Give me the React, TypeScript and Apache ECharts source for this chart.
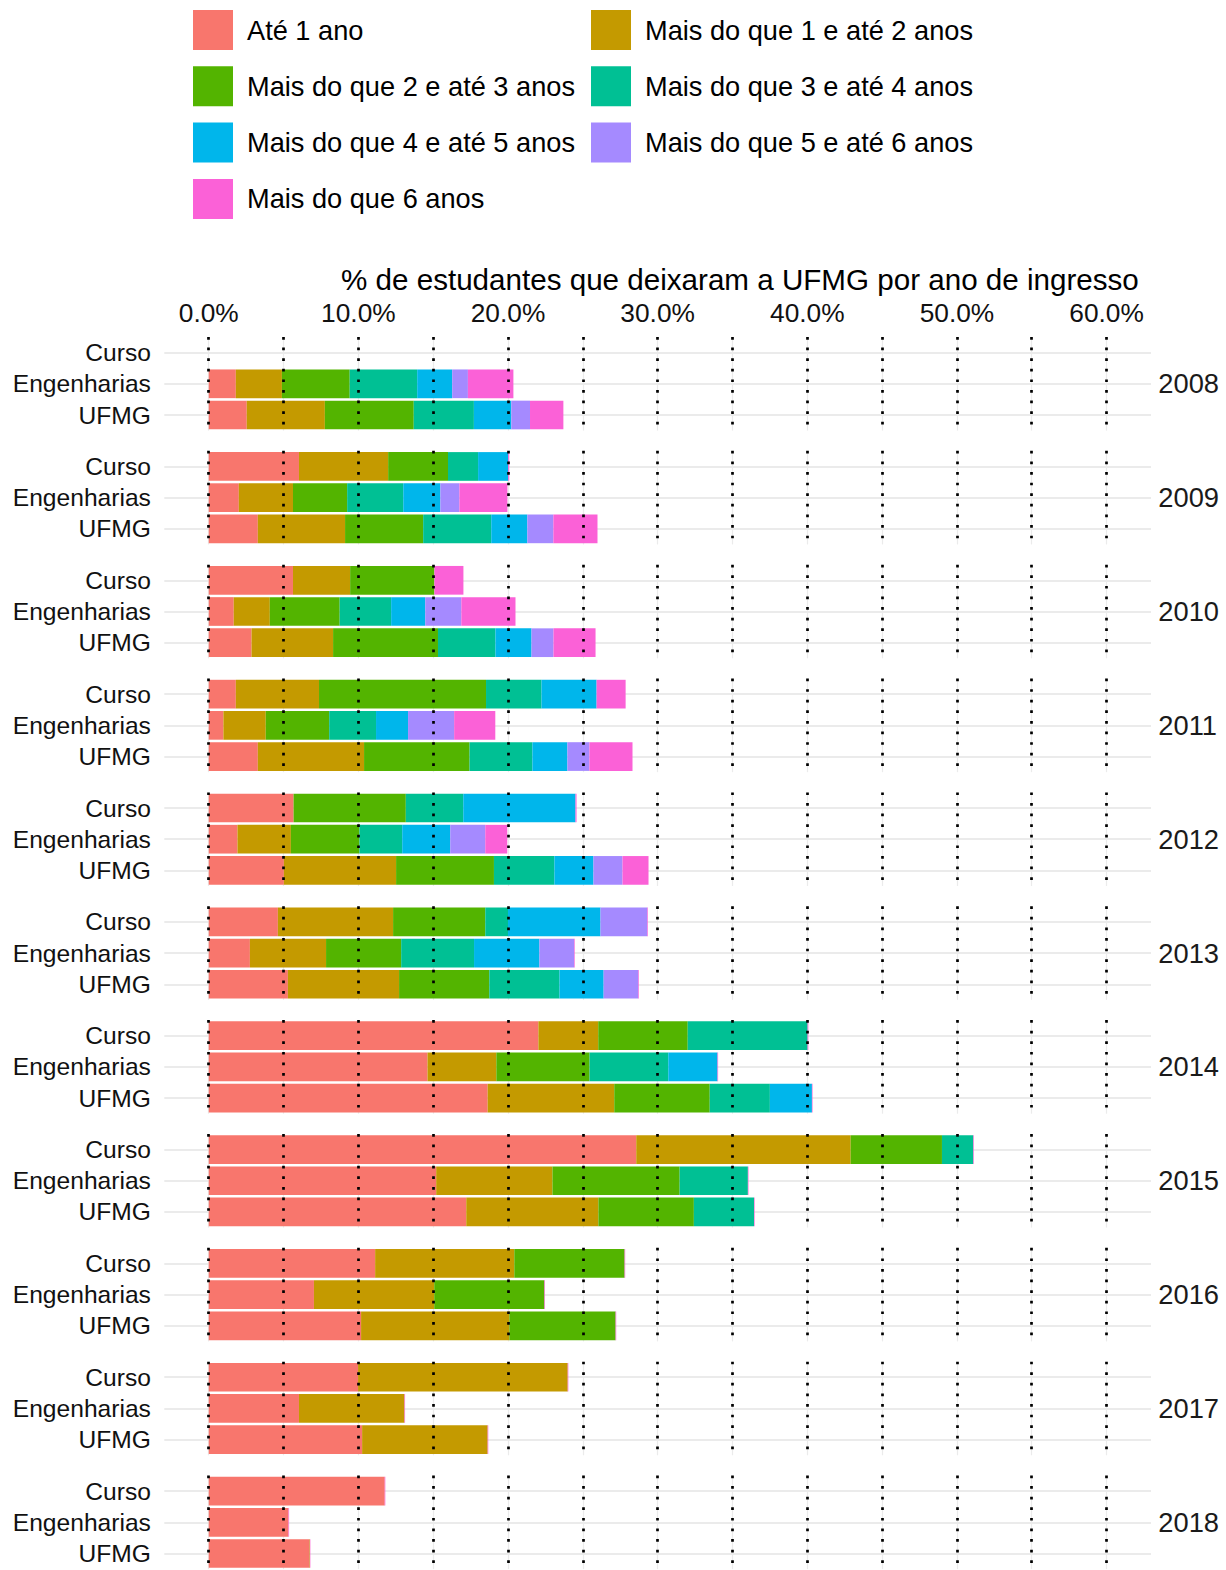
import React, { useEffect, useRef } from "react";
import * as echarts from "echarts";

const years = ["2008", "2009", "2010", "2011", "2012", "2013", "2014", "2015", "2016", "2017", "2018"];
const groups = ["Curso", "Engenharias", "UFMG"];
const categories = [
  "Até 1 ano",
  "Mais do que 1 e até 2 anos",
  "Mais do que 2 e até 3 anos",
  "Mais do que 3 e até 4 anos",
  "Mais do que 4 e até 5 anos",
  "Mais do que 5 e até 6 anos",
  "Mais do que 6 anos",
];
const colors = ["#F8766D", "#C49A00", "#53B400", "#00C094", "#00B6EB", "#A58AFF", "#FB61D7"];

// values in % per year: [Curso, Engenharias, UFMG]
const ate1Ano = [
  [0, 1.81, 2.54], [6.03, 2.01, 3.28], [5.63, 1.67, 2.86], [1.81, 0.98, 3.28],
  [5.67, 1.92, 5.02], [4.62, 2.75, 5.29], [22.03, 14.62, 18.64], [28.57, 15.2, 17.21],
  [11.12, 7.03, 10.18], [9.98, 6.03, 10.25], [11.76, 5.33, 6.7],
];
const de1a2 = [
  [0, 3.08, 5.22], [5.96, 3.62, 5.83], [3.82, 2.41, 5.45], [5.56, 2.83, 7.1],
  [0, 3.57, 7.5], [7.7, 5.09, 7.43], [4.0, 4.6, 8.46], [14.33, 7.77, 8.83],
  [9.3, 8.04, 9.91], [14.01, 7.05, 8.39], [0, 0, 0.05],
];
const de2a3 = [
  [0, 4.53, 5.94], [4.0, 3.62, 5.22], [5.63, 4.67, 7.01], [11.16, 4.24, 7.05],
  [7.5, 4.58, 6.54], [6.16, 5.02, 6.03], [5.98, 6.23, 6.38], [6.1, 8.5, 6.38],
  [7.37, 7.36, 7.1], [0, 0, 0], [0, 0, 0],
];
const de3a4 = [
  [0, 4.51, 4.02], [2.01, 3.75, 4.55], [0, 3.44, 3.84], [3.71, 3.13, 4.2],
  [3.84, 2.86, 4.04], [1.52, 4.87, 4.69], [8.01, 5.26, 4.02], [2.09, 4.56, 4.02],
  [0, 0, 0], [0, 0, 0], [0, 0, 0],
];
const de4a5 = [
  [0, 2.34, 2.5], [2.01, 2.48, 2.41], [0, 2.28, 2.41], [3.68, 2.14, 2.34],
  [7.5, 3.21, 2.61], [6.18, 4.37, 2.95], [0, 3.29, 2.81], [0, 0, 0],
  [0, 0, 0], [0, 0, 0], [0, 0, 0],
];
const de5a6 = [
  [0, 1.05, 1.25], [0, 1.27, 1.74], [0, 2.41, 1.47], [0, 3.08, 1.47],
  [0, 2.34, 1.94], [3.13, 2.32, 2.32], [0, 0, 0], [0, 0, 0],
  [0, 0, 0], [0, 0, 0], [0, 0, 0],
];
const mais6 = [
  [0, 3.04, 2.23], [0.07, 3.21, 2.95], [1.94, 3.62, 2.81], [1.94, 2.75, 2.88],
  [0.07, 1.47, 1.74], [0.04, 0.04, 0.04], [0.05, 0.04, 0.04], [0.04, 0.04, 0.04],
  [0.04, 0.04, 0.04], [0.04, 0.04, 0.04], [0.04, 0.04, 0.04],
];
const seriesValues = [ate1Ano, de1a2, de2a3, de3a4, de4a5, de5a6, mais6];
const xTickValues = [0, 5, 10, 15, 20, 25, 30, 35, 40, 45, 50, 55, 60];
const xLabelValues = [0, 10, 20, 30, 40, 50, 60];
const titleText = "% de estudantes que deixaram a UFMG por ano de ingresso";

const FONT = "'Liberation Sans', Arial, Helvetica, sans-serif";

export default function App() {
  const ref = useRef<HTMLDivElement>(null);
  useEffect(() => {
    const chart = echarts.init(ref.current!, null, { renderer: "svg" });
    const TOP0 = 337.0;
    const STEP = 113.85;
    const PH = 93.6;
    const LEFT = 164.3;
    const W = 986.7;

    const grid = years.map((_, i) => ({ left: LEFT, top: TOP0 + i * STEP, width: W, height: PH }));
    const xAxis = years.map((_, i) => ({
      type: "value",
      gridIndex: i,
      min: -2.97,
      max: 62.97,
      position: "top",
      axisLine: { show: false },
      axisTick: { show: false, customValues: xTickValues },
      axisLabel: {
        show: i === 0,
        customValues: xLabelValues,
        formatter: (v: number) => v.toFixed(1) + "%",
        fontSize: 26.3,
        color: "#111",
        margin: 11.3,
        fontFamily: FONT,
      },
      splitLine: { show: true, customValues: xTickValues, lineStyle: { color: "#EBEBEB", width: 1.2 } },
    }));
    const yAxis: any[] = [];
    years.forEach((y, i) => {
      yAxis.push({
        type: "category",
        gridIndex: i,
        data: groups,
        inverse: true,
        axisLine: { show: false },
        axisTick: { show: false },
        axisLabel: { interval: 0, fontSize: 24.6, color: "#111", margin: 13.4, fontFamily: FONT },
        splitLine: { show: true, interval: 0, alignWithLabel: true, lineStyle: { color: "#EBEBEB", width: 2 } },
      });
      yAxis.push({
        type: "category",
        gridIndex: i,
        position: "right",
        data: ["", y, ""],
        inverse: true,
        axisLine: { show: false },
        axisTick: { show: false },
        axisLabel: { interval: 0, fontSize: 27.3, color: "#1A1A1A", margin: 7.3, fontFamily: FONT },
        splitLine: { show: false },
      });
    });

    const series: any[] = [];
    years.forEach((_, i) => {
      categories.forEach((c, k) => {
        const s: any = {
          type: "bar",
          name: c,
          stack: "p" + i,
          xAxisIndex: i,
          yAxisIndex: 2 * i,
          data: seriesValues[k][i],
          barWidth: 28.7,
          itemStyle: { color: colors[k] },
          silent: true,
          emphasis: { disabled: true },
        };
        if (k === categories.length - 1) {
          s.markLine = {
            silent: true,
            symbol: "none",
            label: { show: false },
            emphasis: { disabled: true },
            animation: false,
            lineStyle: { color: "#000", width: 2.7, type: [2.7, 7.9] },
            data: xTickValues.map((v) => ({ xAxis: v })),
          };
        }
        series.push(s);
      });
    });

    const legendCommon = {
      orient: "vertical",
      top: 10,
      padding: 0,
      itemWidth: 40,
      itemHeight: 40,
      itemGap: 16.3,
      icon: "rect",
      selectedMode: false,
      textStyle: { fontSize: 27.2, color: "#000", fontFamily: FONT, padding: [0, 0, 0, 9] },
    };

    chart.setOption({
      animation: false,
      backgroundColor: "#fff",
      textStyle: { fontFamily: FONT },
      title: {
        text: titleText,
        left: 341,
        top: 264.5,
        padding: 0,
        textStyle: { fontSize: 29.6, fontWeight: "normal", color: "#000", fontFamily: FONT },
      },
      legend: [
        { ...legendCommon, left: 193, data: [categories[0], categories[2], categories[4], categories[6]] },
        { ...legendCommon, left: 591, data: [categories[1], categories[3], categories[5]] },
      ],
      grid,
      xAxis,
      yAxis,
      series,
    });
    return () => chart.dispose();
  }, []);
  return (
    <div
      ref={ref}
      style={{ position: "absolute", left: 0, top: 0, width: 1226, height: 1570, background: "#fff" }}
    />
  );
}
